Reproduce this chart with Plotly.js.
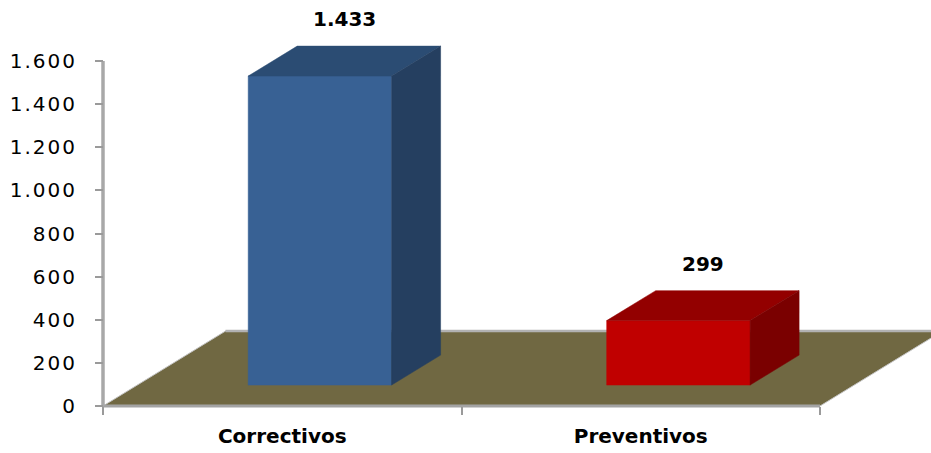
<!DOCTYPE html>
<html>
<head>
<meta charset="utf-8">
<script src="https://cdn.plot.ly/plotly-3.0.1.min.js"></script>
<style>html,body{margin:0;padding:0;background:#fff;}#chart{width:931px;height:453px;}
#chart .ytick text{letter-spacing:2px;}</style>
</head>
<body>
<div id="chart"></div>
<script>
// ---- data ----
const categories = ['Correctivos', 'Preventivos'];
const values = [1433, 299];
const valueLabels = ['1.433', '299'];
const yTickVals = [0, 200, 400, 600, 800, 1000, 1200, 1400, 1600];
const yTickText = ['0', '200', '400', '600', '800', '1.000', '1.200', '1.400', '1.600'];
const frontColors = ['#386194', '#C00000'];
const topColors = ['#2B4C73', '#930000'];
const sideColors = ['#253F60', '#7A0000'];

// ---- 3D geometry (style) ----
const barOffset = -0.095, barWidth = 0.40;
const baseLift = 97;           // bar front sits back on the floor
const depthX = 0.1367, depthY = 139;
const floorDepth = 2.5;        // floor depth in bar-depth units
const catMin = -0.5, catMax = categories.length - 0.5;
const pxPerX = 358.5, pxPerY = 0.215625;

const traces = [];
const base = {type: 'scatter', mode: 'lines', fill: 'toself', hoverinfo: 'skip', showlegend: false};

// floor
const fdx = depthX * floorDepth, fdy = depthY * floorDepth;
traces.push(Object.assign({}, base, {
  x: [catMin, catMax, catMax + fdx, catMin + fdx, catMin],
  y: [0, 0, fdy, fdy, 0],
  fillcolor: '#706842', line: {color: '#C4C4C4', width: 1}
}));
traces.push({type: 'scatter', mode: 'lines', hoverinfo: 'skip', showlegend: false,
  x: [catMin + fdx, catMax + fdx], y: [fdy, fdy], line: {color: '#B2B2B2', width: 2.5}});
traces.push({type: 'scatter', mode: 'lines', hoverinfo: 'skip', showlegend: false,
  x: [catMin, catMax], y: [0, 0], line: {color: '#A3A3A3', width: 3}});
// y axis line
traces.push({type: 'scatter', mode: 'lines', hoverinfo: 'skip', showlegend: false,
  x: [catMin, catMin], y: [0, yTickVals[yTickVals.length - 1]], line: {color: '#A8A8A8', width: 3.5}});

const annotations = [];
categories.forEach((c, i) => {
  const x0 = i + barOffset, x1 = x0 + barWidth;
  const y0 = baseLift, y1 = baseLift + values[i];
  traces.push(Object.assign({}, base, {name: c,
    x: [x0, x1, x1, x0, x0], y: [y0, y0, y1, y1, y0],
    fillcolor: frontColors[i], line: {color: frontColors[i], width: 0.5}}));
  traces.push(Object.assign({}, base, {
    x: [x0, x1, x1 + depthX, x0 + depthX, x0], y: [y1, y1, y1 + depthY, y1 + depthY, y1],
    fillcolor: topColors[i], line: {color: topColors[i], width: 0.5}}));
  traces.push(Object.assign({}, base, {
    x: [x1, x1 + depthX, x1 + depthX, x1, x1], y: [y0, y0 + depthY, y1 + depthY, y1, y0],
    fillcolor: sideColors[i], line: {color: sideColors[i], width: 0.5}}));
  annotations.push({x: (x0 + x1) / 2 + depthX / 2, y: y1 + depthY, xref: 'x', yref: 'y',
    text: '<b>' + valueLabels[i] + '</b>', showarrow: false, yanchor: 'middle', yshift: 27,
    font: {family: 'DejaVu Sans', size: 20, color: '#000'}});
});
traces.push({type: 'scatter', x: [], y: [], xaxis: 'x2', yaxis: 'y', showlegend: false});

const plotL = 95, plotR = 931, plotT = 8, plotB = 412;
const zeroPx = 406, axisPx = 103;
const xStart = catMin - (axisPx - plotL) / pxPerX;
const xEnd = xStart + (plotR - plotL) / pxPerX;
const yStart = -(plotB - zeroPx) / pxPerY;
const yEnd = (zeroPx - plotT) / pxPerY;

const layout = {
  width: 931, height: 453,
  margin: {l: plotL, r: 931 - plotR, t: plotT, b: 453 - plotB, pad: 0},
  paper_bgcolor: '#fff', plot_bgcolor: 'rgba(0,0,0,0)',
  showlegend: false,
  font: {family: 'DejaVu Sans', color: '#000'},
  xaxis: {range: [xStart, xEnd], tickvals: [0, 1], ticktext: categories.map(c => '<b>' + c + '</b>'),
    ticks: '', showgrid: false, zeroline: false, showline: false, fixedrange: true,
    tickfont: {family: 'DejaVu Sans', size: 20, color: '#000'}, ticklabelstandoff: 10},
  xaxis2: {range: [xStart, xEnd], overlaying: 'x', anchor: 'free', position: (plotB - zeroPx) / (plotB - plotT),
    side: 'bottom', tickvals: [catMin, 0.5, catMax], showticklabels: false, ticks: 'outside', ticklen: 8,
    tickwidth: 2, tickcolor: '#9A9A9A', showgrid: false, zeroline: false, showline: false},
  yaxis: {range: [yStart, yEnd], tickvals: yTickVals, ticktext: yTickText, anchor: 'free',
    position: (axisPx - plotL) / (plotR - plotL), ticks: 'outside', ticklen: 8, tickwidth: 2,
    tickcolor: '#9A9A9A', showgrid: false, zeroline: false, showline: false, fixedrange: true,
    tickfont: {family: 'DejaVu Sans', size: 20, color: '#000'}, ticklabelstandoff: 14},
  annotations: annotations
};

Plotly.newPlot('chart', traces, layout, {staticPlot: true, displayModeBar: false});
</script>
</body>
</html>
